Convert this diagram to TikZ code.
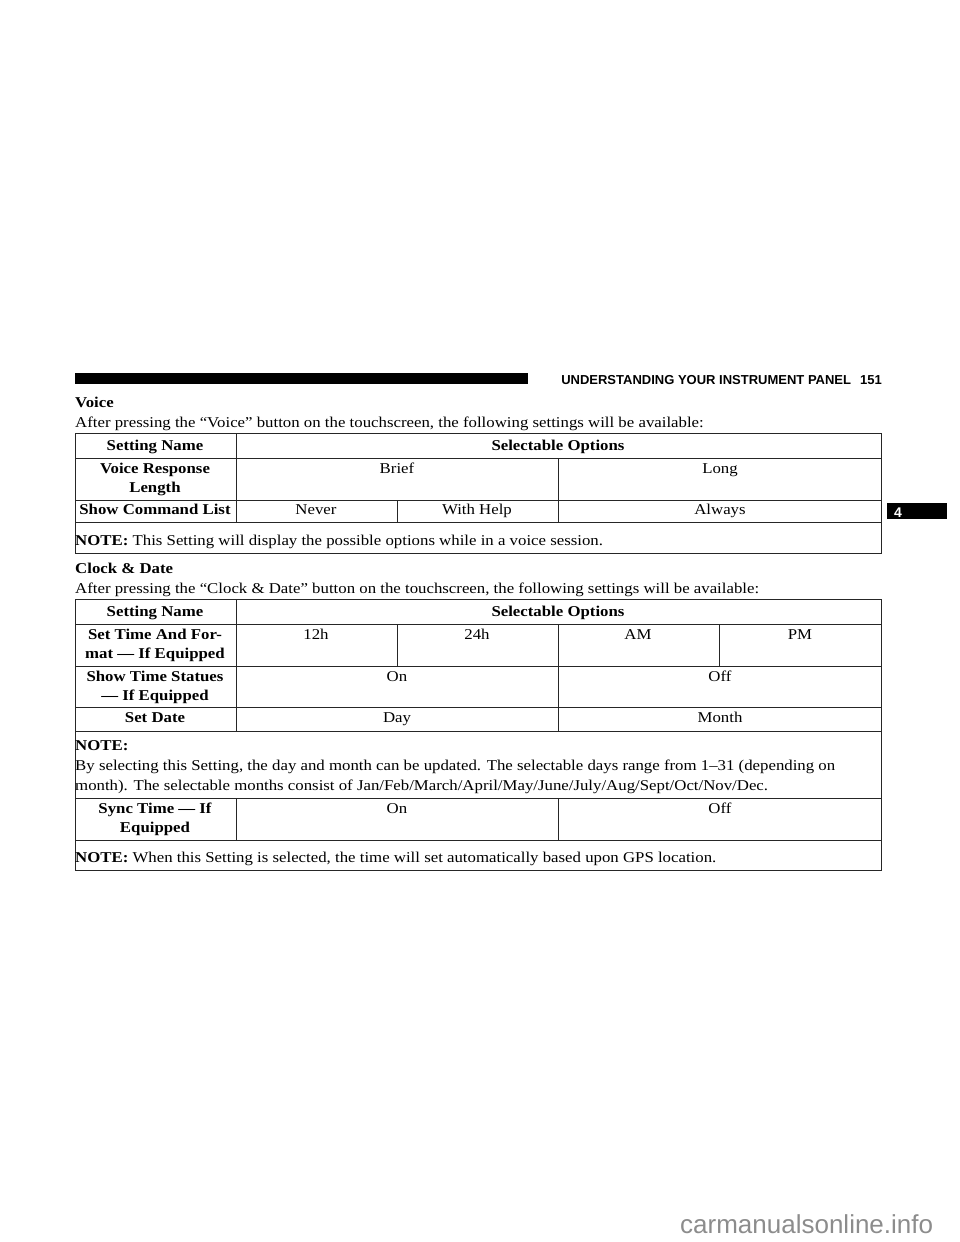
\documentclass[tikz,border=0pt]{standalone}
\usepackage{fontspec}
\setmainfont{Liberation Serif}[FakeStretch=1.12]
\newfontfamily\hdfont{Liberation Sans}
\begin{document}
\begin{tikzpicture}[x=1pt,y=-1pt,
  tx/.style={inner sep=0pt,anchor=base,font=\fontsize{15}{17}\selectfont},
  lt/.style={tx,anchor=base west},
  bt/.style={tx,font=\fontsize{15}{17}\selectfont\bfseries},
  rule/.style={line width=0.9pt,draw=black!85}]
\useasboundingbox (0,0) rectangle (960,1242);
% header
\fill (75,373) rectangle (528,384);
\node[inner sep=0pt,anchor=base east,font=\hdfont\bfseries\fontsize{13}{15}\selectfont] (hd) at (882,384) {UNDERSTANDING YOUR INSTRUMENT PANEL\hspace{9pt}151};
\fill (887,503) rectangle (947,519);
\node[inner sep=0pt,anchor=base,text=white,font=\hdfont\bfseries\fontsize{14}{15}\selectfont] (tab) at (898,517) {4};
% Voice
\node[bt,anchor=base west] (v) at (75,407) {Voice};
\node[lt] (v2) at (75,427) {After pressing the “Voice” button on the touchscreen, the following settings will be available:};
\draw[rule] (75,433) rectangle (881,553);
\draw[rule] (75,458) -- (881,458) (75,500) -- (881,500) (75,522) -- (881,522);
\draw[rule] (236,433) -- (236,522) (558,458) -- (558,522) (397,500) -- (397,522);
\node[bt] (a1) at (155,450) {Setting Name};
\node[bt] (a2) at (558,450) {Selectable Options};
\node[bt] (a3) at (155,473) {Voice Response};
\node[bt] (a4) at (155,492) {Length};
\node[tx] (a5) at (397,473) {Brief};
\node[tx] (a6) at (720,473) {Long};
\node[bt] (a7) at (155,514) {Show Command List};
\node[tx] (a8) at (316,514) {Never};
\node[tx] (a9) at (477,514) {With Help};
\node[tx] (a10) at (720,514) {Always};
\node[lt] (a11) at (75,545) {\textbf{NOTE:} This Setting will display the possible options while in a voice session.};
% Clock
\node[bt,anchor=base west] (c) at (75,573) {Clock \& Date};
\node[lt] (c2) at (75,593) {After pressing the “Clock \& Date” button on the touchscreen, the following settings will be available:};
\draw[rule] (75,599) rectangle (881,870);
\draw[rule] (75,624) -- (881,624) (75,666) -- (881,666) (75,707) -- (881,707) (75,731) -- (881,731) (75,798) -- (881,798) (75,840) -- (881,840);
\draw[rule] (236,599) -- (236,731) (236,798) -- (236,840) (558,624) -- (558,731) (558,798) -- (558,840) (397,624) -- (397,666) (719,624) -- (719,666);
\node[bt] (b1) at (155,616) {Setting Name};
\node[bt] (b2) at (558,616) {Selectable Options};
\node[bt] (b3) at (155,639) {Set Time And For-};
\node[bt] (b4) at (155,658) {mat — If Equipped};
\node[tx] (b5) at (316,639) {12h};
\node[tx] (b6) at (477,639) {24h};
\node[tx] (b7) at (638,639) {AM};
\node[tx] (b8) at (800,639) {PM};
\node[bt] (b9) at (155,681) {Show Time Statues};
\node[bt] (b10) at (155,700) {— If Equipped};
\node[tx] (b11) at (397,681) {On};
\node[tx] (b12) at (720,681) {Off};
\node[bt] (b13) at (155,722) {Set Date};
\node[tx] (b14) at (397,722) {Day};
\node[tx] (b15) at (720,722) {Month};
\node[lt,font=\fontsize{15}{17}\selectfont\bfseries] (b16) at (75,750) {NOTE:};
\node[lt] (b17) at (75,770) {By selecting this Setting, the day and month can be updated. The selectable days range from 1–31 (depending on};
\node[lt] (b18) at (75,790) {month). The selectable months consist of Jan/Feb/March/April/May/June/July/Aug/Sept/Oct/Nov/Dec.};
\node[bt] (b19) at (155,813) {Sync Time — If};
\node[bt] (b20) at (155,832) {Equipped};
\node[tx] (b21) at (397,813) {On};
\node[tx] (b22) at (720,813) {Off};
\node[lt] (b23) at (75,862) {\textbf{NOTE:} When this Setting is selected, the time will set automatically based upon GPS location.};
% watermark
\node[inner sep=0pt,anchor=base west,text=black!45,font=\hdfont\fontsize{26}{28}\selectfont] (wm) at (680,1233) {carmanualsonline.info};
\end{tikzpicture}
\end{document}
